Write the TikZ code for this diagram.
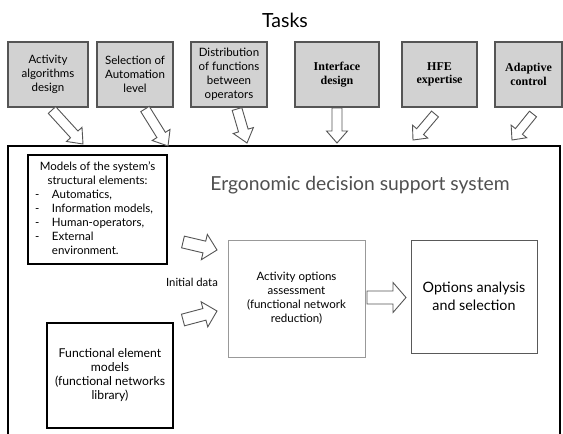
\documentclass[tikz,border=0pt]{standalone}
\usepackage{fontspec}
\setmainfont{Lato}
\newfontfamily\serifbold{Liberation Serif}[BoldFont={Liberation Serif Bold}]
\usetikzlibrary{calc}
\definecolor{taskfill}{HTML}{D2D2D2}
\definecolor{edgegray}{HTML}{555555}
\definecolor{titlegray}{HTML}{505050}
\newcommand\blockarr[5]{%
  \coordinate (bac) at ($(#2)!#5!(#1)$);
  \draw[barrow] ($(#1)!#3!90:(#2)$) -- ($(bac)!#3!90:(#2)$) -- ($(bac)!#4!90:(#2)$) -- (#2)
    -- ($(bac)!#4!-90:(#2)$) -- ($(bac)!#3!-90:(#2)$) -- ($(#1)!#3!-90:(#2)$) -- cycle;}
\begin{document}
\begin{tikzpicture}[x=1pt,y=-1pt,
  taskbox/.style={draw=edgegray, fill=taskfill, line width=1.2pt, minimum height=65pt,
    align=center, inner sep=1pt, font=\fontsize{11.5}{14}\selectfont},
  taskser/.style={taskbox, font=\serifbold\bfseries\fontsize{12}{13.5}\selectfont},
  sysbox/.style={draw=black, line width=1.2pt, align=center, inner sep=0pt},
  barrow/.style={draw=edgegray, fill=white, line width=0.9pt, line join=miter}]
\useasboundingbox (0,0) rectangle (563,434);
\fill[white] (0,0) rectangle (563,434);

% title
\node[font=\fontsize{19.5}{22}\selectfont] (title) at (285,20) {Tasks};

% task boxes
\node[taskbox, minimum width=80pt] (t1) at (48,74.5) {Activity\\algorithms\\design};
\node[taskbox, minimum width=76pt] (t2) at (135,74.5) {Selection of\\Automation\\level};
\node[taskbox, minimum width=76pt] (t3) at (229,74.5) {Distribution\\of functions\\between\\operators};
\node[taskser, minimum width=84pt] (t4) at (337,74.5) {Interface\\design};
\node[taskser, minimum width=75pt] (t5) at (439.5,74.5) {HFE\\expertise};
\node[taskser, minimum width=67pt] (t6) at (528.5,74.5) {Adaptive\\control};

% main frame (open at the bottom)
\coordinate (mbl) at (8,434);
\coordinate (mtl) at (8,146);
\coordinate (mtr) at (560,146);
\coordinate (mbr) at (560,434);
\draw[line width=1.3pt] (mbl) -- (mtl) -- (mtr) -- (mbr);

\node[font=\fontsize{19.3}{22}\selectfont, text=titlegray] (ergo) at (360,185) {Ergonomic decision support system};

% inner boxes
\node[sysbox, minimum width=139pt, minimum height=109pt, font=\fontsize{11.5}{14}\selectfont] (models) at (97.5,209.5)
 {\begin{tabular}{@{}p{17pt}@{}p{108pt}@{}}
  \multicolumn{2}{@{}c@{}}{Models of the system’s}\\
  \multicolumn{2}{@{}c@{}}{structural elements:}\\
  -& Automatics,\\
  -& Information models,\\
  -& Human-operators,\\
  -& External\\
   & environment.
  \end{tabular}};
\node[sysbox, minimum width=126pt, minimum height=105pt, font=\fontsize{12.2}{14}\selectfont] (func) at (110,375.5)
 {Functional element\\models\\(functional networks\\library)};
\node[sysbox, draw=black!40, line width=0.9pt, minimum width=137pt, minimum height=117pt, font=\fontsize{11.5}{14}\selectfont] (act) at (296.5,298.5)
 {Activity options\\assessment\\(functional network\\reduction)};
\node[sysbox, draw=black!65, line width=1pt, minimum width=126pt, minimum height=113pt, font=\fontsize{14.3}{18.5}\selectfont] (opt) at (474,296.5)
 {Options analysis\\and selection};
\node[font=\fontsize{11.3}{13}\selectfont] (init) at (192,282) {Initial data};

% task arrows
\coordinate (a1t) at (52,110);  \coordinate (a1h) at (83,144);
\coordinate (a2t) at (145,109); \coordinate (a2h) at (168,146);
\coordinate (a3t) at (237,109); \coordinate (a3h) at (247,143);
\coordinate (a4t) at (337,108); \coordinate (a4h) at (337,143);
\coordinate (a5t) at (435,114); \coordinate (a5h) at (413,140);
\coordinate (a6t) at (533,114); \coordinate (a6h) at (512,140);
\blockarr{a1t}{a1h}{5pt}{10.5pt}{13pt}
\blockarr{a2t}{a2h}{5pt}{10.5pt}{13pt}
\blockarr{a3t}{a3h}{5pt}{10.5pt}{13pt}
\blockarr{a4t}{a4h}{5pt}{10.5pt}{12pt}
\blockarr{a5t}{a5h}{4.5pt}{10pt}{11pt}
\blockarr{a6t}{a6h}{4.5pt}{10pt}{11pt}

% initial data arrows
\coordinate (i1t) at (183,242); \coordinate (i1h) at (217,250);
\coordinate (i2t) at (183,320); \coordinate (i2h) at (217,311);
\blockarr{i1t}{i1h}{6pt}{13pt}{13pt}
\blockarr{i2t}{i2h}{6pt}{13pt}{13pt}

% activity -> options
\coordinate (rt) at (367,297.5); \coordinate (rh) at (406,297.5);
\blockarr{rt}{rh}{6.5pt}{15pt}{13pt}
\end{tikzpicture}
\end{document}
